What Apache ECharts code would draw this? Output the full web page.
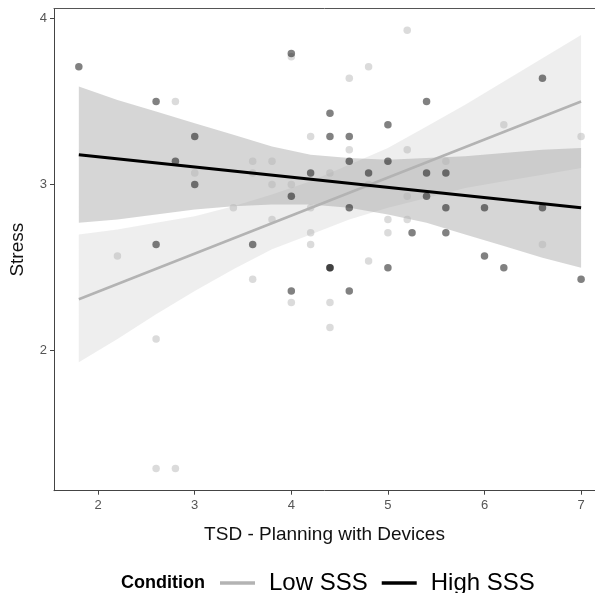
<!DOCTYPE html>
<html>
<head>
<meta charset="utf-8">
<script src="https://cdn.jsdelivr.net/npm/echarts@6/dist/echarts.min.js"></script>
<style>
html,body{margin:0;padding:0;background:#fff;}
#chart{width:595px;height:593px;}
</style>
</head>
<body>
<div id="chart"></div>
<script>
// ---- data ----
const xTicks = [2, 3, 4, 5, 6, 7];
const yTicks = [2, 3, 4];

const lowPoints = [
  [2.2,2.57],[2.6,2.07],[2.6,1.29],[2.8,1.29],[2.8,3.50],[3.0,3.07],[3.4,2.86],
  [3.6,3.14],[3.6,3.07],[3.6,2.43],[3.8,3.14],[3.8,3.00],[3.8,2.79],[4.0,3.77],
  [4.0,3.00],[4.0,2.29],[4.2,3.29],[4.2,2.86],[4.2,2.71],[4.2,2.64],[4.4,3.07],
  [4.4,2.29],[4.4,2.14],[4.6,3.64],[4.6,3.21],[4.8,3.71],[4.8,3.00],[4.8,2.54],
  [5.0,2.79],[5.0,2.71],[5.2,3.93],[5.2,3.21],[5.2,2.93],[5.2,2.79],[5.6,3.14],
  [6.2,3.36],[6.6,2.64],[7.0,3.29]
];
const highPoints = [
  [1.8,3.71],[2.6,3.50],[2.6,2.64],[2.8,3.14],[3.0,3.29],[3.0,3.00],[3.6,2.64],
  [4.0,3.79],[4.0,2.93],[4.0,2.36],[4.2,3.07],[4.4,3.43],[4.4,3.29],[4.4,2.50],
  [4.4,2.50],[4.6,3.29],[4.6,3.14],[4.6,2.86],[4.6,2.36],[4.8,3.07],[5.0,3.36],
  [5.0,3.14],[5.0,2.50],[5.25,2.71],[5.4,3.50],[5.4,3.07],[5.4,2.93],[5.6,3.07],
  [5.6,2.86],[5.6,2.71],[6.0,2.86],[6.0,2.57],[6.2,2.50],[6.6,3.64],[6.6,2.86],
  [7.0,2.43]
];

const lowLine  = [[1.8,2.31],[7.0,3.50]];
const highLine = [[1.8,3.18],[7.0,2.86]];

const bandX     = [1.8, 2.2, 2.6, 3.0, 3.4, 3.8, 4.2, 4.6, 5.0, 5.4, 5.8, 6.2, 6.6, 7.0];
const lowUpper  = [2.70,2.73,2.77,2.81,2.87,2.94,3.02,3.12,3.22,3.35,3.48,3.62,3.76,3.90];
const lowLower  = [1.93,2.07,2.22,2.36,2.49,2.61,2.70,2.79,2.86,2.92,2.98,3.02,3.06,3.10];
const highUpper = [3.59,3.51,3.44,3.37,3.30,3.23,3.18,3.16,3.15,3.16,3.17,3.19,3.21,3.22];
const highLower = [2.77,2.79,2.82,2.85,2.87,2.88,2.88,2.86,2.82,2.77,2.70,2.63,2.56,2.50];

// ---- chart ----
const FONT = 'Liberation Sans, Arial, sans-serif';
const chart = echarts.init(document.getElementById('chart'), null, {renderer: 'canvas'});

function bandSeries(upper, lower, fill) {
  return {
    type: 'custom',
    silent: true,
    data: [[bandX[0], upper[0]]],
    renderItem: function (params, api) {
      const pts = [];
      for (let i = 0; i < bandX.length; i++) pts.push(api.coord([bandX[i], upper[i]]));
      for (let i = bandX.length - 1; i >= 0; i--) pts.push(api.coord([bandX[i], lower[i]]));
      return {type: 'polygon', shape: {points: pts}, style: {fill: fill}};
    }
  };
}

const option = {
  backgroundColor: '#fff',
  animation: false,
  grid: {left: 51.7, top: 8.7, right: 0, bottom: 102.3},
  xAxis: [{
    type: 'value', min: 1.543, max: 7.144,
    name: 'TSD - Planning with Devices', nameLocation: 'middle', nameGap: 35,
    nameTextStyle: {fontFamily: FONT, fontSize: 19, color: '#111'},
    splitLine: {show: false},
    axisLine: {show: true, onZero: false, lineStyle: {color: '#444', width: 1}},
    axisTick: {show: true, length: 4, customValues: xTicks, lineStyle: {color: '#444'}},
    axisLabel: {customValues: xTicks, fontFamily: FONT, fontSize: 13, color: '#555', margin: 8}
  }, {
    type: 'value', position: 'top', min: 1.543, max: 7.144,
    splitLine: {show: false},
    axisLine: {show: true, onZero: false, lineStyle: {color: '#555', width: 1}},
    axisTick: {show: false}, axisLabel: {show: false}
  }],
  yAxis: {
    type: 'value', min: 1.157, max: 4.059,
    name: 'Stress', nameLocation: 'middle', nameGap: 27, nameRotate: 90,
    nameTextStyle: {fontFamily: FONT, fontSize: 19, color: '#111'},
    splitLine: {show: false},
    axisLine: {show: true, onZero: false, lineStyle: {color: '#444', width: 1}},
    axisTick: {show: true, length: 4, customValues: yTicks, lineStyle: {color: '#444'}},
    axisLabel: {customValues: yTicks, fontFamily: FONT, fontSize: 13, color: '#555', margin: 7}
  },
  legend: {
    data: [
      {name: 'Low SSS', icon: 'rect', itemStyle: {color: '#b3b3b3'}},
      {name: 'High SSS', icon: 'rect', itemStyle: {color: '#000'}}
    ],
    left: 220, top: 571, padding: 0,
    itemWidth: 35, itemHeight: 3.5, itemGap: 14,
    textStyle: {fontFamily: FONT, fontSize: 24, color: '#000', padding: [0, 0, 0, 9]},
    selectedMode: false
  },
  graphic: [{
    type: 'text', left: 121, top: 574,
    style: {text: 'Condition', fontFamily: FONT, fontSize: 18, fontWeight: 'bold', fill: '#000'}
  }],
  series: [
    bandSeries(lowUpper, lowLower, 'rgba(217,217,217,0.45)'),
    {name: 'Low SSS', type: 'line', data: lowLine, symbol: 'none', silent: true,
     lineStyle: {color: '#b3b3b3', width: 2.6}, itemStyle: {color: '#b3b3b3'}},
    bandSeries(highUpper, highLower, 'rgba(153,153,153,0.4)'),
    {name: 'High SSS', type: 'line', data: highLine, symbol: 'none', silent: true,
     lineStyle: {color: '#000', width: 3}, itemStyle: {color: '#000'}},
    {name: 'lowPts', type: 'scatter', data: lowPoints, symbolSize: 7.5, silent: true,
     itemStyle: {color: 'rgba(179,179,179,0.6)'}},
    {name: 'highPts', type: 'scatter', data: highPoints, symbolSize: 7.5, silent: true,
     itemStyle: {color: 'rgba(0,0,0,0.62)'}}
  ]
};
chart.setOption(option);
</script>
</body>
</html>
